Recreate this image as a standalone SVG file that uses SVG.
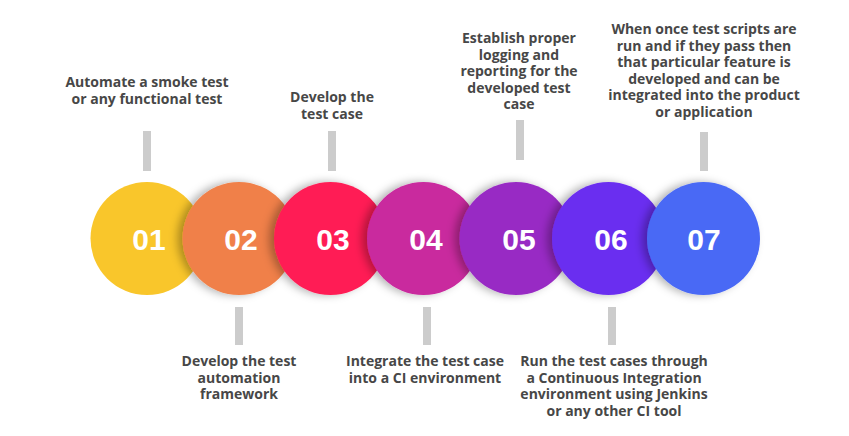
<svg xmlns="http://www.w3.org/2000/svg" width="849" height="436" viewBox="0 0 849 436">
<defs>
<filter id="sh" x="-30%" y="-30%" width="160%" height="160%">
<feDropShadow dx="-5" dy="0" stdDeviation="4" flood-color="#000" flood-opacity="0.3"/>
</filter>
<style>
.num{font-family:"Liberation Sans",Arial,sans-serif;font-weight:bold;font-size:30px;fill:#fff;text-anchor:middle}
.lbl{font-family:"Open Sans","Liberation Sans",sans-serif;font-weight:bold;font-size:14px;fill:#474747;text-anchor:middle}
.bar{fill:#cccccc}
</style>
</defs>
<rect width="849" height="436" fill="#fff"/>
<g id="connectors">
<rect class="bar" x="143" y="131" width="8" height="40"/>
<rect class="bar" x="328" y="131" width="8" height="40"/>
<rect class="bar" x="516" y="120" width="8" height="40"/>
<rect class="bar" x="700" y="132" width="8" height="39"/>
<rect class="bar" x="235" y="307" width="8" height="38"/>
<rect class="bar" x="423" y="307" width="8" height="38"/>
<rect class="bar" x="608" y="307" width="8" height="38"/>
</g>
<g id="node1">
<circle cx="147" cy="238.5" r="56.5" fill="#F9C62B"/>
<text class="num" x="149" y="250">01</text>
<text class="lbl" x="147" y="87">Automate a smoke test</text>
<text class="lbl" x="147" y="103.5">or any functional test</text>
</g>
<g id="node2">
<circle cx="239" cy="238.5" r="56.5" fill="#F0804A" filter="url(#sh)"/>
<text class="num" x="241" y="250">02</text>
<text class="lbl" x="239" y="366">Develop the test</text>
<text class="lbl" x="239" y="382.5">automation</text>
<text class="lbl" x="239" y="399">framework</text>
</g>
<g id="node3">
<circle cx="330.5" cy="238.5" r="56.5" fill="#FF1F55" filter="url(#sh)"/>
<text class="num" x="333" y="250">03</text>
<text class="lbl" x="332" y="102">Develop the</text>
<text class="lbl" x="332" y="118.5">test case</text>
</g>
<g id="node4">
<circle cx="423.5" cy="238.5" r="56.5" fill="#C9299E" filter="url(#sh)"/>
<text class="num" x="426" y="250">04</text>
<text class="lbl" x="425" y="366">Integrate the test case</text>
<text class="lbl" x="425" y="382.5">into a CI environment</text>
</g>
<g id="node5">
<circle cx="516" cy="238.5" r="56.5" fill="#982BC4" filter="url(#sh)"/>
<text class="num" x="519" y="250">05</text>
<text class="lbl" x="519" y="43">Establish proper</text>
<text class="lbl" x="519" y="59.5">logging and</text>
<text class="lbl" x="519" y="76">reporting for the</text>
<text class="lbl" x="519" y="92.5">developed test</text>
<text class="lbl" x="519" y="109">case</text>
</g>
<g id="node6">
<circle cx="608.5" cy="238.5" r="56.5" fill="#6B2EF0" filter="url(#sh)"/>
<text class="num" x="611" y="250">06</text>
<text class="lbl" x="614" y="366">Run the test cases through</text>
<text class="lbl" x="614" y="382.5">a Continuous Integration</text>
<text class="lbl" x="614" y="399">environment using Jenkins</text>
<text class="lbl" x="614" y="415.5">or any other CI tool</text>
</g>
<g id="node7">
<circle cx="703.5" cy="238.5" r="56.5" fill="#4A69F5" filter="url(#sh)"/>
<text class="num" x="704" y="250">07</text>
<text class="lbl" x="704" y="34">When once test scripts are</text>
<text class="lbl" x="704" y="50.5">run and if they pass then</text>
<text class="lbl" x="704" y="67">that particular feature is</text>
<text class="lbl" x="704" y="83.5">developed and can be</text>
<text class="lbl" x="704" y="100">integrated into the product</text>
<text class="lbl" x="704" y="116.5">or application</text>
</g>
</svg>
